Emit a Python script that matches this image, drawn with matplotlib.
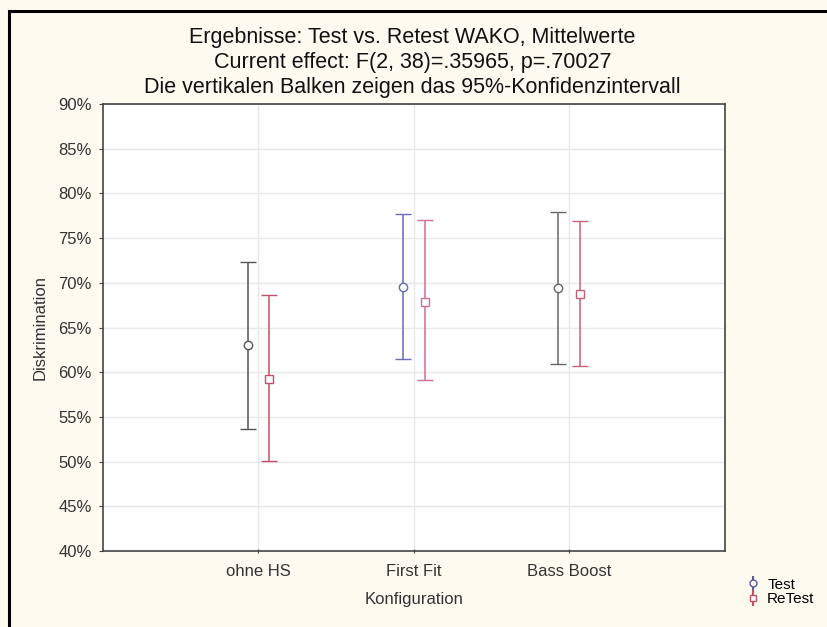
import numpy as np
import matplotlib
matplotlib.use("Agg")
import matplotlib.pyplot as plt
from matplotlib.patches import Rectangle
from matplotlib.ticker import FuncFormatter

plt.rcParams["font.family"] = ["Liberation Sans", "DejaVu Sans"]

# data (Diskrimination in %)
categories = ["ohne HS", "First Fit", "Bass Boost"]
test_mean  = [63.0, 69.5, 69.4]
test_low   = [53.7, 61.5, 60.9]
test_high  = [72.3, 77.7, 77.9]
retest_mean = [59.3, 67.9, 68.8]
retest_low  = [50.1, 59.1, 60.7]
retest_high = [68.6, 77.0, 76.9]
y_ticks = [40, 45, 50, 55, 60, 65, 70, 75, 80, 85, 90]

title_lines = [
    "Ergebnisse: Test vs. Retest WAKO, Mittelwerte",
    "Current effect: F(2, 38)=.35965, p=.70027",
    "Die vertikalen Balken zeigen das 95%-Konfidenzintervall",
]

bg = "#fdfaf0"
test_colors   = ["#555555", "#6a68b8", "#666666"]
retest_colors = ["#c0506a", "#d0708a", "#c86078"]

fig = plt.figure(figsize=(8.28, 6.27), dpi=100, facecolor=bg)
ax = fig.add_axes([0.1244, 0.121, 0.751, 0.713])
ax.set_facecolor("white")

# outer black frame (only left/top visible in the crop)
fig.patches.append(Rectangle((9 / 828, -0.1), 1.2, 1 - 11 / 627 + 0.1,
                             transform=fig.transFigure, fill=False,
                             edgecolor="black", linewidth=2.2, zorder=0))

x = np.arange(1, len(categories) + 1)
off = 0.07

for i in range(len(categories)):
    ax.errorbar(x[i] - off, test_mean[i],
                yerr=[[test_mean[i] - test_low[i]], [test_high[i] - test_mean[i]]],
                fmt="o", mfc="white", mec=test_colors[i], ms=6, mew=1,
                ecolor=test_colors[i], elinewidth=1.1, capsize=6, capthick=1.1,
                zorder=3)
    ax.errorbar(x[i] + off, retest_mean[i],
                yerr=[[retest_mean[i] - retest_low[i]], [retest_high[i] - retest_mean[i]]],
                fmt="s", mfc="white", mec=retest_colors[i], ms=6, mew=1,
                ecolor=retest_colors[i], elinewidth=1.1, capsize=6, capthick=1.1,
                zorder=3)

ax.set_xlim(0, 4)
ax.set_ylim(40, 90)
ax.set_xticks(x)
ax.set_xticklabels(categories)
ax.set_yticks(y_ticks)
ax.yaxis.set_major_formatter(FuncFormatter(lambda v, p: f"{v:.0f}%"))
ax.grid(True, color="#e8e8e8", linewidth=1)
ax.set_axisbelow(True)

for s in ax.spines.values():
    s.set_color("#444444")
    s.set_linewidth(1.2)
ax.tick_params(axis="both", labelsize=12, colors="#444444", labelcolor="#333333")
ax.tick_params(axis="y", length=3, direction="out", pad=5)
ax.tick_params(axis="x", length=3, direction="inout", pad=8)

ax.set_xlabel("Konfiguration", fontsize=12, color="#333333", labelpad=9)
ax.set_ylabel("Diskrimination", fontsize=12, color="#333333", labelpad=8)

for k, line in enumerate(title_lines):
    fig.text(0.498, 1 - (37 + 25.5 * k) / 627, line, ha="center", va="center",
             fontsize=15.5, color="#111111")

# legend
ht = ax.errorbar([], [], yerr=[], fmt="o", mfc="white", mec="#5a5a9a", ms=5,
                 ecolor="#5a5a9a", capsize=5)
hr = ax.errorbar([], [], yerr=[], fmt="s", mfc="white", mec="#c0506a", ms=5,
                 ecolor="#c0506a", capsize=5)
fig.legend([ht, hr], ["Test", "ReTest"], loc="center left",
           bbox_to_anchor=(732 / 828, 1 - 592 / 627), frameon=False,
           fontsize=11, handlelength=1.0, handletextpad=0.4,
           labelspacing=0.05)

fig.savefig("out.png", dpi=100, facecolor=bg)
